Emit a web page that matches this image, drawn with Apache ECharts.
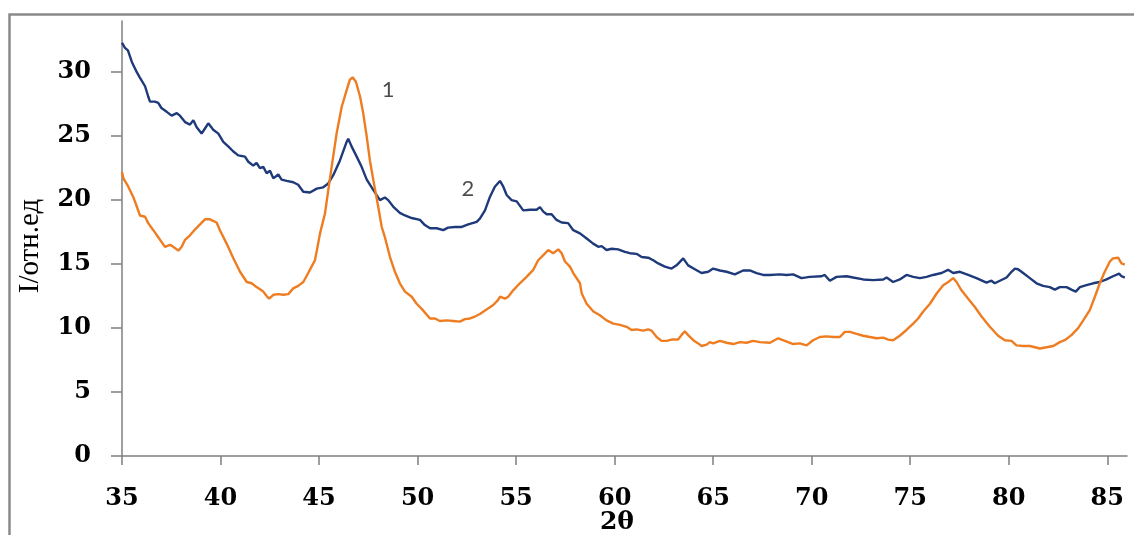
<!DOCTYPE html>
<html>
<head>
<meta charset="utf-8">
<script src="https://cdn.jsdelivr.net/npm/echarts@6/dist/echarts.min.js"></script>
<style>
  html, body { margin: 0; padding: 0; background: #ffffff; }
  #chart { width: 1134px; height: 535px; }
</style>
</head>
<body>
<div id="chart"></div>
<script>
// Diffraction pattern 1 (orange): 2θ, degrees
const twoTheta1 = [35.0,35.07,35.32,35.57,35.75,35.91,36.17,36.33,36.59,36.84,37.18,37.44,37.6,37.86,38.03,38.2,38.45,38.7,38.96,39.21,39.46,39.8,39.97,40.31,40.65,40.99,41.33,41.58,41.83,42.17,42.34,42.47,42.68,42.93,43.18,43.44,43.52,43.69,43.94,44.2,44.45,44.62,44.79,44.88,45.05,45.3,45.47,45.64,45.89,46.15,46.4,46.56,46.7,46.87,47.08,47.24,47.42,47.58,47.75,48.0,48.18,48.34,48.6,48.85,49.1,49.36,49.7,49.95,50.21,50.63,50.88,51.13,51.47,51.81,52.15,52.4,52.66,52.91,53.16,53.5,53.84,54.09,54.18,54.43,54.6,54.85,55.19,55.53,55.87,56.12,56.38,56.63,56.88,57.14,57.31,57.48,57.73,57.9,58.24,58.33,58.58,58.92,59.25,59.59,59.93,60.27,60.61,60.86,61.11,61.45,61.7,61.87,62.13,62.38,62.64,62.89,63.22,63.39,63.56,63.73,63.99,64.24,64.41,64.67,64.83,65.0,65.34,65.68,66.02,66.36,66.69,67.03,67.37,67.88,68.3,68.64,69.06,69.4,69.74,70.07,70.41,70.75,71.09,71.43,71.68,71.94,72.28,72.61,72.95,73.29,73.63,73.88,74.13,74.47,74.81,75.15,75.4,75.66,76.0,76.34,76.67,76.93,77.18,77.35,77.6,77.94,78.28,78.62,79.04,79.46,79.8,80.14,80.39,80.73,81.07,81.58,81.92,82.26,82.59,82.84,83.18,83.52,83.78,84.11,84.37,84.62,84.87,85.13,85.29,85.55,85.72,85.89];
// Diffraction pattern 1 (orange): intensity, rel. units
const intensity1 = [22.2,21.7,21.05,20.25,19.5,18.8,18.7,18.2,17.65,17.1,16.35,16.5,16.35,16.05,16.35,16.9,17.25,17.7,18.1,18.5,18.5,18.25,17.65,16.6,15.45,14.4,13.6,13.5,13.2,12.85,12.5,12.3,12.6,12.65,12.6,12.65,12.75,13.1,13.3,13.6,14.3,14.8,15.3,16.0,17.4,18.95,20.8,22.6,25.2,27.3,28.6,29.4,29.6,29.25,28.1,26.8,24.95,23.1,21.6,19.5,17.9,17.1,15.55,14.4,13.5,12.85,12.45,11.9,11.5,10.75,10.75,10.55,10.6,10.55,10.5,10.7,10.75,10.9,11.1,11.45,11.8,12.2,12.45,12.3,12.45,12.95,13.5,14.0,14.55,15.3,15.7,16.1,15.85,16.15,15.85,15.2,14.8,14.3,13.5,12.7,11.9,11.3,11.0,10.6,10.35,10.25,10.1,9.85,9.9,9.8,9.9,9.8,9.3,9.0,9.0,9.1,9.1,9.45,9.75,9.45,9.05,8.8,8.6,8.7,8.9,8.8,9.0,8.85,8.75,8.9,8.85,9.0,8.9,8.85,9.2,9.0,8.75,8.8,8.65,9.05,9.3,9.35,9.3,9.3,9.7,9.7,9.55,9.4,9.3,9.2,9.25,9.1,9.05,9.4,9.85,10.35,10.75,11.3,11.9,12.7,13.35,13.6,13.9,13.6,12.95,12.3,11.65,10.9,10.1,9.4,9.05,9.0,8.65,8.6,8.6,8.4,8.5,8.6,8.9,9.05,9.45,10.0,10.6,11.4,12.45,13.5,14.4,15.2,15.45,15.5,15.05,14.95];

// Diffraction pattern 2 (navy): 2θ, degrees
const twoTheta2 = [35.0,35.15,35.2,35.3,35.5,35.75,35.9,36.17,36.33,36.42,36.67,36.84,37.0,37.27,37.52,37.78,37.94,38.2,38.45,38.62,38.79,39.04,39.21,39.38,39.63,39.89,40.14,40.39,40.65,40.9,41.24,41.41,41.66,41.83,42.0,42.17,42.34,42.51,42.68,42.93,43.1,43.36,43.69,43.94,44.2,44.54,44.88,45.21,45.47,45.72,46.06,46.4,46.48,46.65,46.91,47.16,47.42,47.75,48.09,48.34,48.51,48.76,49.1,49.36,49.7,50.12,50.37,50.63,50.97,51.3,51.55,51.9,52.24,52.57,53.0,53.16,53.42,53.67,53.92,54.18,54.35,54.52,54.77,55.03,55.36,55.7,56.04,56.21,56.38,56.55,56.8,57.05,57.31,57.64,57.9,58.24,58.58,58.91,59.17,59.34,59.59,59.85,60.18,60.52,60.77,61.11,61.37,61.7,61.96,62.21,62.55,62.89,63.14,63.48,63.73,64.07,64.41,64.75,65.0,65.34,65.68,66.1,66.52,66.86,67.2,67.54,67.88,68.38,68.72,69.06,69.48,69.9,70.5,70.66,70.92,71.26,71.77,72.1,72.61,73.12,73.63,73.8,74.13,74.47,74.81,75.15,75.49,75.83,76.16,76.59,76.92,77.18,77.52,77.94,78.36,78.87,79.12,79.29,79.55,79.89,80.14,80.31,80.47,80.73,81.07,81.41,81.74,82.08,82.34,82.59,82.93,83.18,83.4,83.61,83.94,84.28,84.62,84.96,85.29,85.6,85.72,85.89];
// Diffraction pattern 2 (navy): intensity, rel. units
const intensity2 = [32.3,31.9,32.0,31.7,30.8,30.0,29.6,28.9,28.1,27.7,27.7,27.6,27.2,26.9,26.6,26.8,26.6,26.1,25.9,26.25,25.7,25.2,25.6,26.0,25.5,25.2,24.55,24.2,23.8,23.5,23.4,23.0,22.7,22.9,22.5,22.6,22.1,22.3,21.7,22.0,21.6,21.5,21.4,21.2,20.65,20.6,20.9,21.0,21.3,21.95,23.1,24.55,24.8,24.2,23.4,22.6,21.6,20.8,20.0,20.2,20.0,19.5,19.0,18.8,18.6,18.45,18.05,17.8,17.8,17.65,17.85,17.9,17.9,18.1,18.3,18.55,19.2,20.25,21.05,21.5,21.05,20.4,20.0,19.9,19.2,19.25,19.25,19.45,19.1,18.9,18.9,18.45,18.25,18.2,17.65,17.4,17.0,16.6,16.35,16.4,16.1,16.2,16.15,15.95,15.85,15.8,15.55,15.5,15.3,15.05,14.8,14.65,14.9,15.45,14.9,14.6,14.3,14.4,14.65,14.5,14.4,14.2,14.5,14.5,14.3,14.15,14.15,14.2,14.15,14.2,13.9,14.0,14.05,14.15,13.7,14.0,14.05,13.95,13.8,13.75,13.8,13.95,13.6,13.8,14.15,14.0,13.9,14.0,14.15,14.3,14.55,14.3,14.4,14.15,13.9,13.55,13.7,13.5,13.7,13.95,14.4,14.65,14.6,14.3,13.9,13.5,13.3,13.2,13.0,13.2,13.2,13.0,12.85,13.2,13.35,13.5,13.6,13.8,14.05,14.25,14.05,13.95];

// Curve numbers placed next to their curves
const curveTags = ['1', '2'];
const curveTagX = [48.5, 52.55];
const curveTagY = [28.6, 20.9];

// Axis tick values
const xTicks = [35, 40, 45, 50, 55, 60, 65, 70, 75, 80, 85];
const yTicks = [0, 5, 10, 15, 20, 25, 30];

const zip = (xs, ys) => xs.map((x, i) => [x, ys[i]]);

const axisGray = '#7f7f7f';
const tickFont = {
  fontFamily: '"DejaVu Serif", serif',
  fontWeight: 'bold',
  fontSize: 24,
  color: '#000000'
};

const chart = echarts.init(document.getElementById('chart'), null, { renderer: 'canvas' });

chart.setOption({
  backgroundColor: '#ffffff',
  animation: false,
  grid: { left: 122, right: 7, top: 21, bottom: 79, containLabel: false },
  xAxis: {
    type: 'value',
    min: 35,
    max: 86,
    interval: 5,
    splitLine: { show: false },
    axisLine: { show: true, onZero: false, lineStyle: { color: axisGray, width: 1.5 } },
    axisTick: { show: true, inside: false, length: 9, customValues: xTicks, lineStyle: { color: axisGray, width: 1.5 } },
    axisLabel: Object.assign({ margin: 31, customValues: xTicks }, tickFont)
  },
  yAxis: {
    type: 'value',
    min: 0,
    max: 34,
    interval: 5,
    splitLine: { show: false },
    axisLine: { show: true, lineStyle: { color: axisGray, width: 1.5 } },
    axisTick: { show: true, inside: false, length: 11, customValues: yTicks, lineStyle: { color: axisGray, width: 1.5 } },
    axisLabel: Object.assign({ margin: 31, customValues: yTicks }, tickFont)
  },
  series: [
    {
      name: '2',
      type: 'line',
      data: zip(twoTheta2, intensity2),
      showSymbol: false,
      symbol: 'none',
      smooth: false,
      lineStyle: { color: '#1f3a7a', width: 2.4 },
      z: 2
    },
    {
      name: '1',
      type: 'line',
      data: zip(twoTheta1, intensity1),
      showSymbol: false,
      symbol: 'none',
      smooth: false,
      lineStyle: { color: '#ee7d22', width: 2.4 },
      z: 3
    },
    {
      type: 'scatter',
      data: curveTagX.map((x, i) => ({ value: [x, curveTagY[i]], name: curveTags[i] })),
      symbolSize: 0,
      silent: true,
      z: 4,
      label: {
        show: true,
        position: 'inside',
        formatter: (p) => p.name,
        fontFamily: 'Lato, "Open Sans", sans-serif',
        fontSize: 22,
        color: '#1f1f1f'
      }
    }
  ],
  graphic: [
    // Outer frame (top and left edges)
    {
      type: 'polyline',
      shape: { points: [[9.5, 540], [9.5, 14.5], [1140, 14.5]] },
      style: { stroke: '#8a8a8a', lineWidth: 2.5, fill: null },
      silent: true
    },
    // Y axis title
    {
      type: 'text',
      x: 30,
      y: 246,
      rotation: Math.PI / 2,
      style: {
        text: 'I/отн.ед',
        fontFamily: '"Liberation Serif", serif',
        fontSize: 29,
        fill: '#000000',
        align: 'center',
        verticalAlign: 'middle'
      },
      silent: true
    },
    // X axis title
    {
      type: 'text',
      x: 617,
      y: 522,
      style: {
        text: '2θ',
        fontFamily: '"DejaVu Serif", serif',
        fontWeight: 'bold',
        fontSize: 25,
        fill: '#000000',
        align: 'center',
        verticalAlign: 'middle'
      },
      silent: true
    }
  ]
});
</script>
</body>
</html>
